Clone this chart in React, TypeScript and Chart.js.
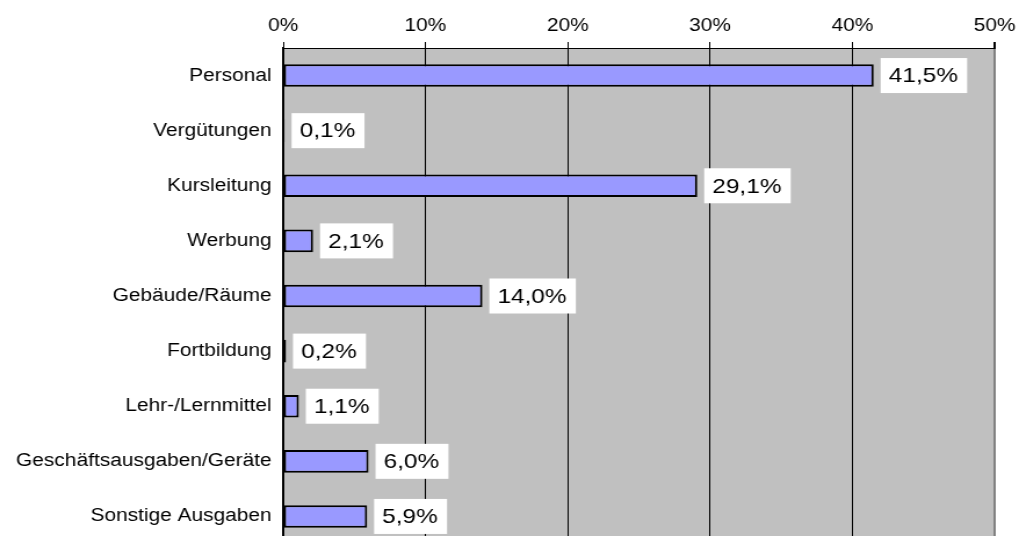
import React, { useEffect, useRef } from "react";
import { Chart, registerables } from "chart.js";

Chart.register(...registerables);

const categories = [
  "Personal",
  "Vergütungen",
  "Kursleitung",
  "Werbung",
  "Gebäude/Räume",
  "Fortbildung",
  "Lehr-/Lernmittel",
  "Geschäftsausgaben/Geräte",
  "Sonstige Ausgaben",
];
const shares = [41.5, 0.1, 29.1, 2.1, 14.0, 0.2, 1.1, 6.0, 5.9];
const tickMin = 0;
const tickMax = 50;
const tickStep = 10;

const STRETCH = 1.16;
const VIEW_W = 1019;
const CANVAS_H = 544;
const INNER_W = Math.round(VIEW_W / STRETCH);
const FONT = "Arial, 'Liberation Sans', sans-serif";

const fmt = (v: number) => v.toFixed(1).replace(".", ",") + "%";

const plotBackground = {
  id: "plotBackground",
  beforeDraw(chart: any) {
    const { ctx, chartArea } = chart;
    ctx.save();
    ctx.fillStyle = "#C0C0C0";
    ctx.fillRect(chartArea.left, chartArea.top, chartArea.right - chartArea.left, chartArea.bottom - chartArea.top);
    ctx.restore();
  },
};

const valueLabels = {
  id: "valueLabels",
  afterDatasetsDraw(chart: any) {
    const { ctx } = chart;
    const meta = chart.getDatasetMeta(0);
    const data = chart.data.datasets[0].data as number[];
    ctx.save();
    ctx.font = `21px ${FONT}`;
    ctx.textBaseline = "middle";
    ctx.textAlign = "left";
    meta.data.forEach((bar: any, i: number) => {
      const text = fmt(data[i]);
      const tw = ctx.measureText(text).width;
      const bx = bar.x + 6;
      const bh = 35;
      const bw = tw + 15;
      const by = bar.y - bh / 2;
      ctx.fillStyle = "#FFFFFF";
      ctx.fillRect(bx, by, bw, bh);
      ctx.fillStyle = "#000000";
      ctx.fillText(text, bx + 7, bar.y + 1);
    });
    ctx.restore();
  },
};

export default function App() {
  const ref = useRef<HTMLCanvasElement | null>(null);

  useEffect(() => {
    if (!ref.current) return;
    const chart = new Chart(ref.current, {
      type: "bar",
      data: {
        labels: categories,
        datasets: [
          {
            data: shares,
            backgroundColor: "#9999FF",
            borderColor: "#000000",
            borderWidth: 2,
            borderSkipped: false,
            categoryPercentage: 1,
            barPercentage: 0.41,
          },
        ],
      },
      options: {
        indexAxis: "y",
        responsive: false,
        animation: false,
        devicePixelRatio: 1,
        layout: { padding: { left: 0, right: 21, top: 0, bottom: 0 } },
        plugins: {
          legend: { display: false },
          tooltip: { enabled: false },
          title: { display: false },
        },
        scales: {
          x: {
            position: "top",
            min: tickMin,
            max: tickMax,
            ticks: {
              stepSize: tickStep,
              color: "#000",
              font: { family: FONT, size: 18 },
              padding: 5,
              callback: (v: any) => v + "%",
              maxRotation: 0,
            },
            grid: {
              color: (c: any) => (c.tick && c.tick.value === tickMax ? "#808080" : "#000000"),
              lineWidth: (c: any) => (c.tick && c.tick.value === tickMax ? 2 : 1),
              tickColor: "#000000",
              tickLength: 6,
              drawTicks: true,
            },
            border: { display: true, color: "#000000", width: 1 },
            afterFit: (s: any) => {
              s.height = 48;
              s.paddingLeft = 0;
              s.paddingRight = 0;
              s.paddingTop = 0;
              s.paddingBottom = 0;
            },
          },
          y: {
            ticks: {
              color: "#000",
              font: { family: FONT, size: 18 },
              padding: 10,
            },
            grid: { display: false, drawTicks: false },
            border: { display: true, color: "#000000", width: 2 },
            afterFit: (s: any) => {
              s.width = 244;
              s.paddingLeft = 0;
              s.paddingRight = 0;
              s.paddingTop = 0;
              s.paddingBottom = 0;
            },
          },
        },
      },
      plugins: [plotBackground, valueLabels],
    } as any);
    return () => chart.destroy();
  }, []);

  return (
    <div
      style={{
        position: "absolute",
        left: 0,
        top: 0,
        width: VIEW_W,
        height: 536,
        overflow: "hidden",
        background: "#fff",
      }}
    >
      <canvas
        ref={ref}
        width={INNER_W}
        height={CANVAS_H}
        style={{ width: VIEW_W + "px", height: CANVAS_H + "px", display: "block" }}
      />
    </div>
  );
}
